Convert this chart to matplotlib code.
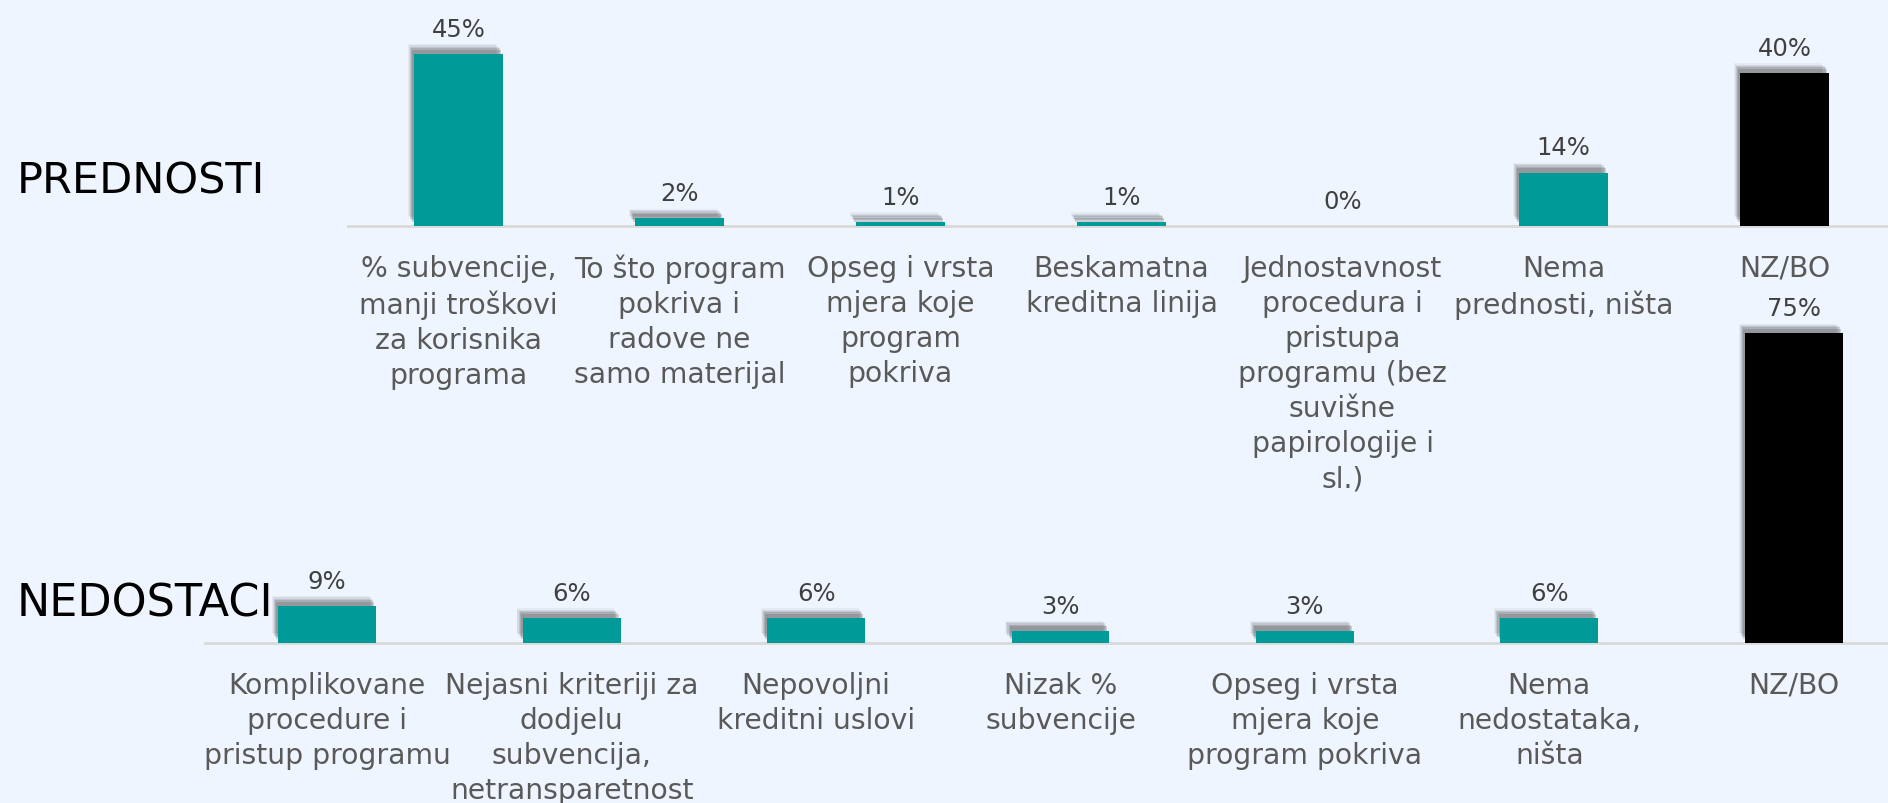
import numpy as np
import matplotlib
matplotlib.use('Agg')
import matplotlib.pyplot as plt
from matplotlib import patheffects as pe

# data
pred_labels = ['% subvencije,\nmanji troškovi\nza korisnika\nprograma',
               'To što program\npokriva i\nradove ne\nsamo materijal',
               'Opseg i vrsta\nmjera koje\nprogram\npokriva',
               'Beskamatna\nkreditna linija',
               'Jednostavnost\nprocedura i\npristupa\nprogramu (bez\nsuvišne\npapirologije i\nsl.)',
               'Nema\nprednosti, ništa',
               'NZ/BO']
pred_values = [45, 2, 1, 1, 0, 14, 40]

ned_labels = ['Komplikovane\nprocedure i\npristup programu',
              'Nejasni kriteriji za\ndodjelu\nsubvencija,\nnetransparetnost',
              'Nepovoljni\nkreditni uslovi',
              'Nizak %\nsubvencije',
              'Opseg i vrsta\nmjera koje\nprogram pokriva',
              'Nema\nnedostataka,\nništa',
              'NZ/BO']
ned_values = [9, 6, 6, 3, 3, 6, 75]

bg = '#EEF5FF'
teal = '#009B98'
W, H = 1888, 804

fig = plt.figure(figsize=(W/100, H/100), dpi=100, facecolor=bg)

# fake blurred shadow: several offset copies with low alpha
shadow = [pe.SimplePatchShadow(offset=(-4.5, 7), shadow_rgbFace='#4a4a4a', alpha=0.06),
          pe.SimplePatchShadow(offset=(-3.8, 6.2), shadow_rgbFace='#4a4a4a', alpha=0.10),
          pe.SimplePatchShadow(offset=(-3, 5.2), shadow_rgbFace='#4a4a4a', alpha=0.14),
          pe.SimplePatchShadow(offset=(-2.2, 4.2), shadow_rgbFace='#4a4a4a', alpha=0.18),
          pe.SimplePatchShadow(offset=(-1.4, 3), shadow_rgbFace='#4a4a4a', alpha=0.22),
          pe.Normal()]


def draw(ax, labels, values, ymax, pad):
    x = np.arange(len(values))
    colors = [teal] * (len(values) - 1) + ['black']
    bars = ax.bar(x, values, width=0.4, color=colors, zorder=3)
    for b in bars:
        b.set_path_effects(shadow)
    for xi, v in zip(x, values):
        ax.annotate('{}%'.format(v), (xi, v), xytext=(0, 13), textcoords='offset points',
                    ha='center', va='baseline', fontsize=17.5, color='#404040', zorder=5)
    ax.set_xlim(-0.5, len(values) - 0.5)
    ax.set_ylim(0, ymax)
    ax.set_xticks(x)
    ax.set_xticklabels(labels, fontsize=20.3, color='#595959', linespacing=1.32)
    ax.tick_params(axis='x', length=0, pad=pad)
    ax.set_yticks([])
    for s in ['top', 'left', 'right']:
        ax.spines[s].set_visible(False)
    ax.spines['bottom'].set_color('#D9D9D9')
    ax.spines['bottom'].set_linewidth(2)
    ax.set_facecolor('none')


# top chart: baseline at y=227 px, 3.82 px per %
ax1 = fig.add_axes([348/W, 1 - 227/H, (1895 - 348)/W, 227/H])
draw(ax1, pred_labels, pred_values, 227/3.82, 20)

# bottom chart: baseline at y=644 px, 4.13 px per %
ax2 = fig.add_axes([205/W, 1 - 644/H, (1916 - 205)/W, 394/H])
draw(ax2, ned_labels, ned_values, 394/4.13, 20)

fig.text(17/W, 1 - 193/H, 'PREDNOSTI', fontsize=31, va='baseline', ha='left', color='black')
fig.text(17/W, 1 - 617/H, 'NEDOSTACI', fontsize=32, va='baseline', ha='left', color='black', zorder=10)

plt.savefig('out.png', dpi=100, facecolor=bg)
